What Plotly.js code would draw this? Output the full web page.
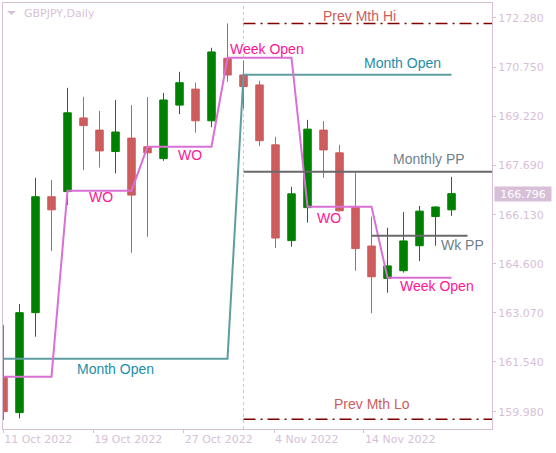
<!DOCTYPE html>
<html><head><meta charset="utf-8">
<script src="https://cdn.plot.ly/plotly-3.0.1.min.js"></script>
<style>html,body{margin:0;padding:0;background:#fff;} #chart{width:556px;height:453px;}</style>
</head><body><div id="chart"></div>
<script>
// ---- data ----
const dates = ["11 Oct 2022","12 Oct 2022","13 Oct 2022","14 Oct 2022","17 Oct 2022","18 Oct 2022","19 Oct 2022","20 Oct 2022","21 Oct 2022","24 Oct 2022","25 Oct 2022","26 Oct 2022","27 Oct 2022","28 Oct 2022","31 Oct 2022","1 Nov 2022","2 Nov 2022","3 Nov 2022","4 Nov 2022","7 Nov 2022","8 Nov 2022","9 Nov 2022","10 Nov 2022","11 Nov 2022","14 Nov 2022","15 Nov 2022","16 Nov 2022","17 Nov 2022","18 Nov 2022"];
const openP  = [161.08,159.96,163.08,166.70,166.86,169.16,168.78,168.11,168.53,168.26,167.89,169.56,170.06,169.07,171.02,170.50,170.19,168.32,165.33,166.36,168.78,168.07,166.36,165.16,164.15,164.39,165.17,166.08,166.29];
const highP  = [162.70,163.35,167.29,167.22,170.10,169.82,169.38,169.72,169.56,169.81,169.94,170.60,170.26,171.35,172.11,170.95,170.32,168.57,167.01,169.10,169.06,168.32,167.46,166.08,165.73,166.22,166.41,166.40,167.32];
const lowP   = [159.73,159.78,162.33,165.01,166.44,167.53,167.61,167.43,164.95,165.45,167.82,169.28,168.70,168.87,170.29,169.46,168.28,165.10,165.14,165.89,167.29,166.24,164.39,163.06,163.70,164.33,164.69,165.17,166.10];
const closeP = [159.99,163.08,166.70,166.29,169.32,168.92,168.13,168.72,166.75,168.07,169.72,170.26,169.07,171.22,170.50,170.14,168.45,165.41,166.79,168.81,168.16,166.26,165.08,164.20,164.54,165.32,166.25,166.38,166.796];
const weekOpen  = [161.08,161.08,161.08,161.08,166.89,166.89,166.89,166.89,166.89,168.26,168.26,168.26,168.26,168.26,171.04,171.04,171.04,171.04,171.04,166.39,166.39,166.39,166.39,166.39,164.17,164.17,164.17,164.17,164.17];
const monthOpen = [161.64,161.64,161.64,161.64,161.64,161.64,161.64,161.64,161.64,161.64,161.64,161.64,161.64,161.64,161.64,170.51,170.51,170.51,170.51,170.51,170.51,170.51,170.51,170.51,170.51,170.51,170.51,170.51,170.51];
const prevMthHi = 172.11;
const prevMthLo = 159.75;
const monthlyPP = 167.48;
const wkPP = 165.48;
const lastPrice = 166.796;
const yTicks = [159.980,161.540,163.070,164.600,166.130,167.690,169.220,170.750,172.280];
const xTickText = ["11 Oct 2022","19 Oct 2022","27 Oct 2022","4 Nov 2022","14 Nov 2022"];
const xTickPos = [-0.02,5.61,11.26,16.91,22.53];

// ---- chart ----
const idx = dates.map((d,i)=>i);
const monthStart = dates.indexOf("1 Nov 2022");
const wkPPStart = dates.indexOf("11 Nov 2022");
const thistle = '#D8BFD8';
const lvlEnd = dates.length + 3;

const traces = [
  {type:'scatter',mode:'lines',x:idx,y:monthOpen,line:{color:'#5F9EA0',width:2},hoverinfo:'skip'},
  {type:'scatter',mode:'lines',x:idx,y:weekOpen,line:{color:'#DA70D6',width:2},hoverinfo:'skip'},
  {type:'scatter',mode:'lines',x:[monthStart,lvlEnd],y:[monthlyPP,monthlyPP],line:{color:'#696969',width:2},hoverinfo:'skip'},
  {type:'scatter',mode:'lines',x:[wkPPStart,dates.length],y:[wkPP,wkPP],line:{color:'#696969',width:2},hoverinfo:'skip'},
  {type:'scatter',mode:'lines',x:[monthStart,lvlEnd],y:[prevMthHi,prevMthHi],line:{color:'#800000',width:1.5,dash:'12px,5px,2px,5px'},hoverinfo:'skip'},
  {type:'scatter',mode:'lines',x:[monthStart,lvlEnd],y:[prevMthLo,prevMthLo],line:{color:'#800000',width:1.5,dash:'12px,5px,2px,5px'},hoverinfo:'skip'},
  {type:'candlestick',x:idx,open:openP,high:highP,low:lowP,close:closeP,whiskerwidth:0,
   increasing:{line:{color:'#008000',width:1},fillcolor:'#008000'},
   decreasing:{line:{color:'#CD5C5C',width:1},fillcolor:'#CD5C5C'},hoverinfo:'skip'}
];

const F = 'Liberation Sans, Arial, sans-serif';
function lbl(text,x,y,color){return {text:text,x:x,y:y,xref:'x',yref:'y',showarrow:false,xanchor:'center',yanchor:'middle',font:{family:F,size:14,color:color}};}
const annotations = [
  lbl('Prev Mth Hi',22.28,172.35,'#CD5C5C'),
  lbl('Prev Mth Lo',23.0,160.23,'#CD5C5C'),
  lbl('Month Open',24.94,170.87,'#1E8EA8'),
  lbl('Month Open',6.97,161.31,'#1E8EA8'),
  lbl('Week Open',16.45,171.32,'#FF1493'),
  lbl('WO',6.11,166.69,'#FF1493'),
  lbl('WO',11.63,167.99,'#FF1493'),
  lbl('WO',20.33,166.04,'#FF1493'),
  lbl('Week Open',27.08,163.90,'#FF1493'),
  lbl('Monthly PP',26.61,167.88,'#6F7F8F'),
  lbl('Wk PP',28.71,165.18,'#6F7F8F'),
  {text:'GBPJPY,Daily',xref:'paper',yref:'paper',x:0.0389,y:0.9765,xanchor:'left',yanchor:'middle',showarrow:false,font:{family:'DejaVu Sans',size:11,color:thistle}},
  {text:lastPrice.toFixed(3),xref:'paper',yref:'y',x:1,y:lastPrice,xanchor:'left',yanchor:'middle',xshift:2,showarrow:false,bgcolor:thistle,width:54,height:12,borderpad:1,font:{family:'DejaVu Sans',size:11,color:'#ffffff'}}
];

const shapes = [
  {type:'line',xref:'x',yref:'paper',x0:monthStart,x1:monthStart,y0:0,y1:1,layer:'below',line:{color:thistle,width:1,dash:'3px,3px'}},
  {type:'path',xref:'paper',yref:'paper',path:'M0.00818,0.98122 L0.02658,0.98122 L0.01738,0.97183 Z',fillcolor:thistle,line:{width:0}}
];

const layout = {
  width:556,height:453,margin:{l:3,r:64,t:3,b:24},
  paper_bgcolor:'#ffffff',plot_bgcolor:'#ffffff',showlegend:false,hovermode:false,dragmode:false,
  boxgap:0.33,
  xaxis:{range:[-0.03125,30.53],tickmode:'array',tickvals:xTickPos,ticktext:xTickText,ticks:'outside',ticklen:3,tickcolor:thistle,
    showgrid:false,zeroline:false,showline:true,mirror:true,linecolor:thistle,linewidth:1,
    tickfont:{family:'DejaVu Sans',size:11,color:thistle},ticklabelposition:'outside right',rangeslider:{visible:false},fixedrange:true},
  yaxis:{side:'right',range:[159.448,172.748],tickmode:'array',tickvals:yTicks,ticktext:yTicks.map(v=>v.toFixed(3)),ticks:'outside',ticklen:3,tickcolor:thistle,
    showgrid:false,zeroline:false,showline:true,mirror:true,linecolor:thistle,linewidth:1,
    tickfont:{family:'DejaVu Sans',size:11,color:thistle},fixedrange:true},
  annotations:annotations,shapes:shapes
};
Plotly.newPlot('chart',traces,layout,{staticPlot:true,displayModeBar:false});
</script></body></html>
